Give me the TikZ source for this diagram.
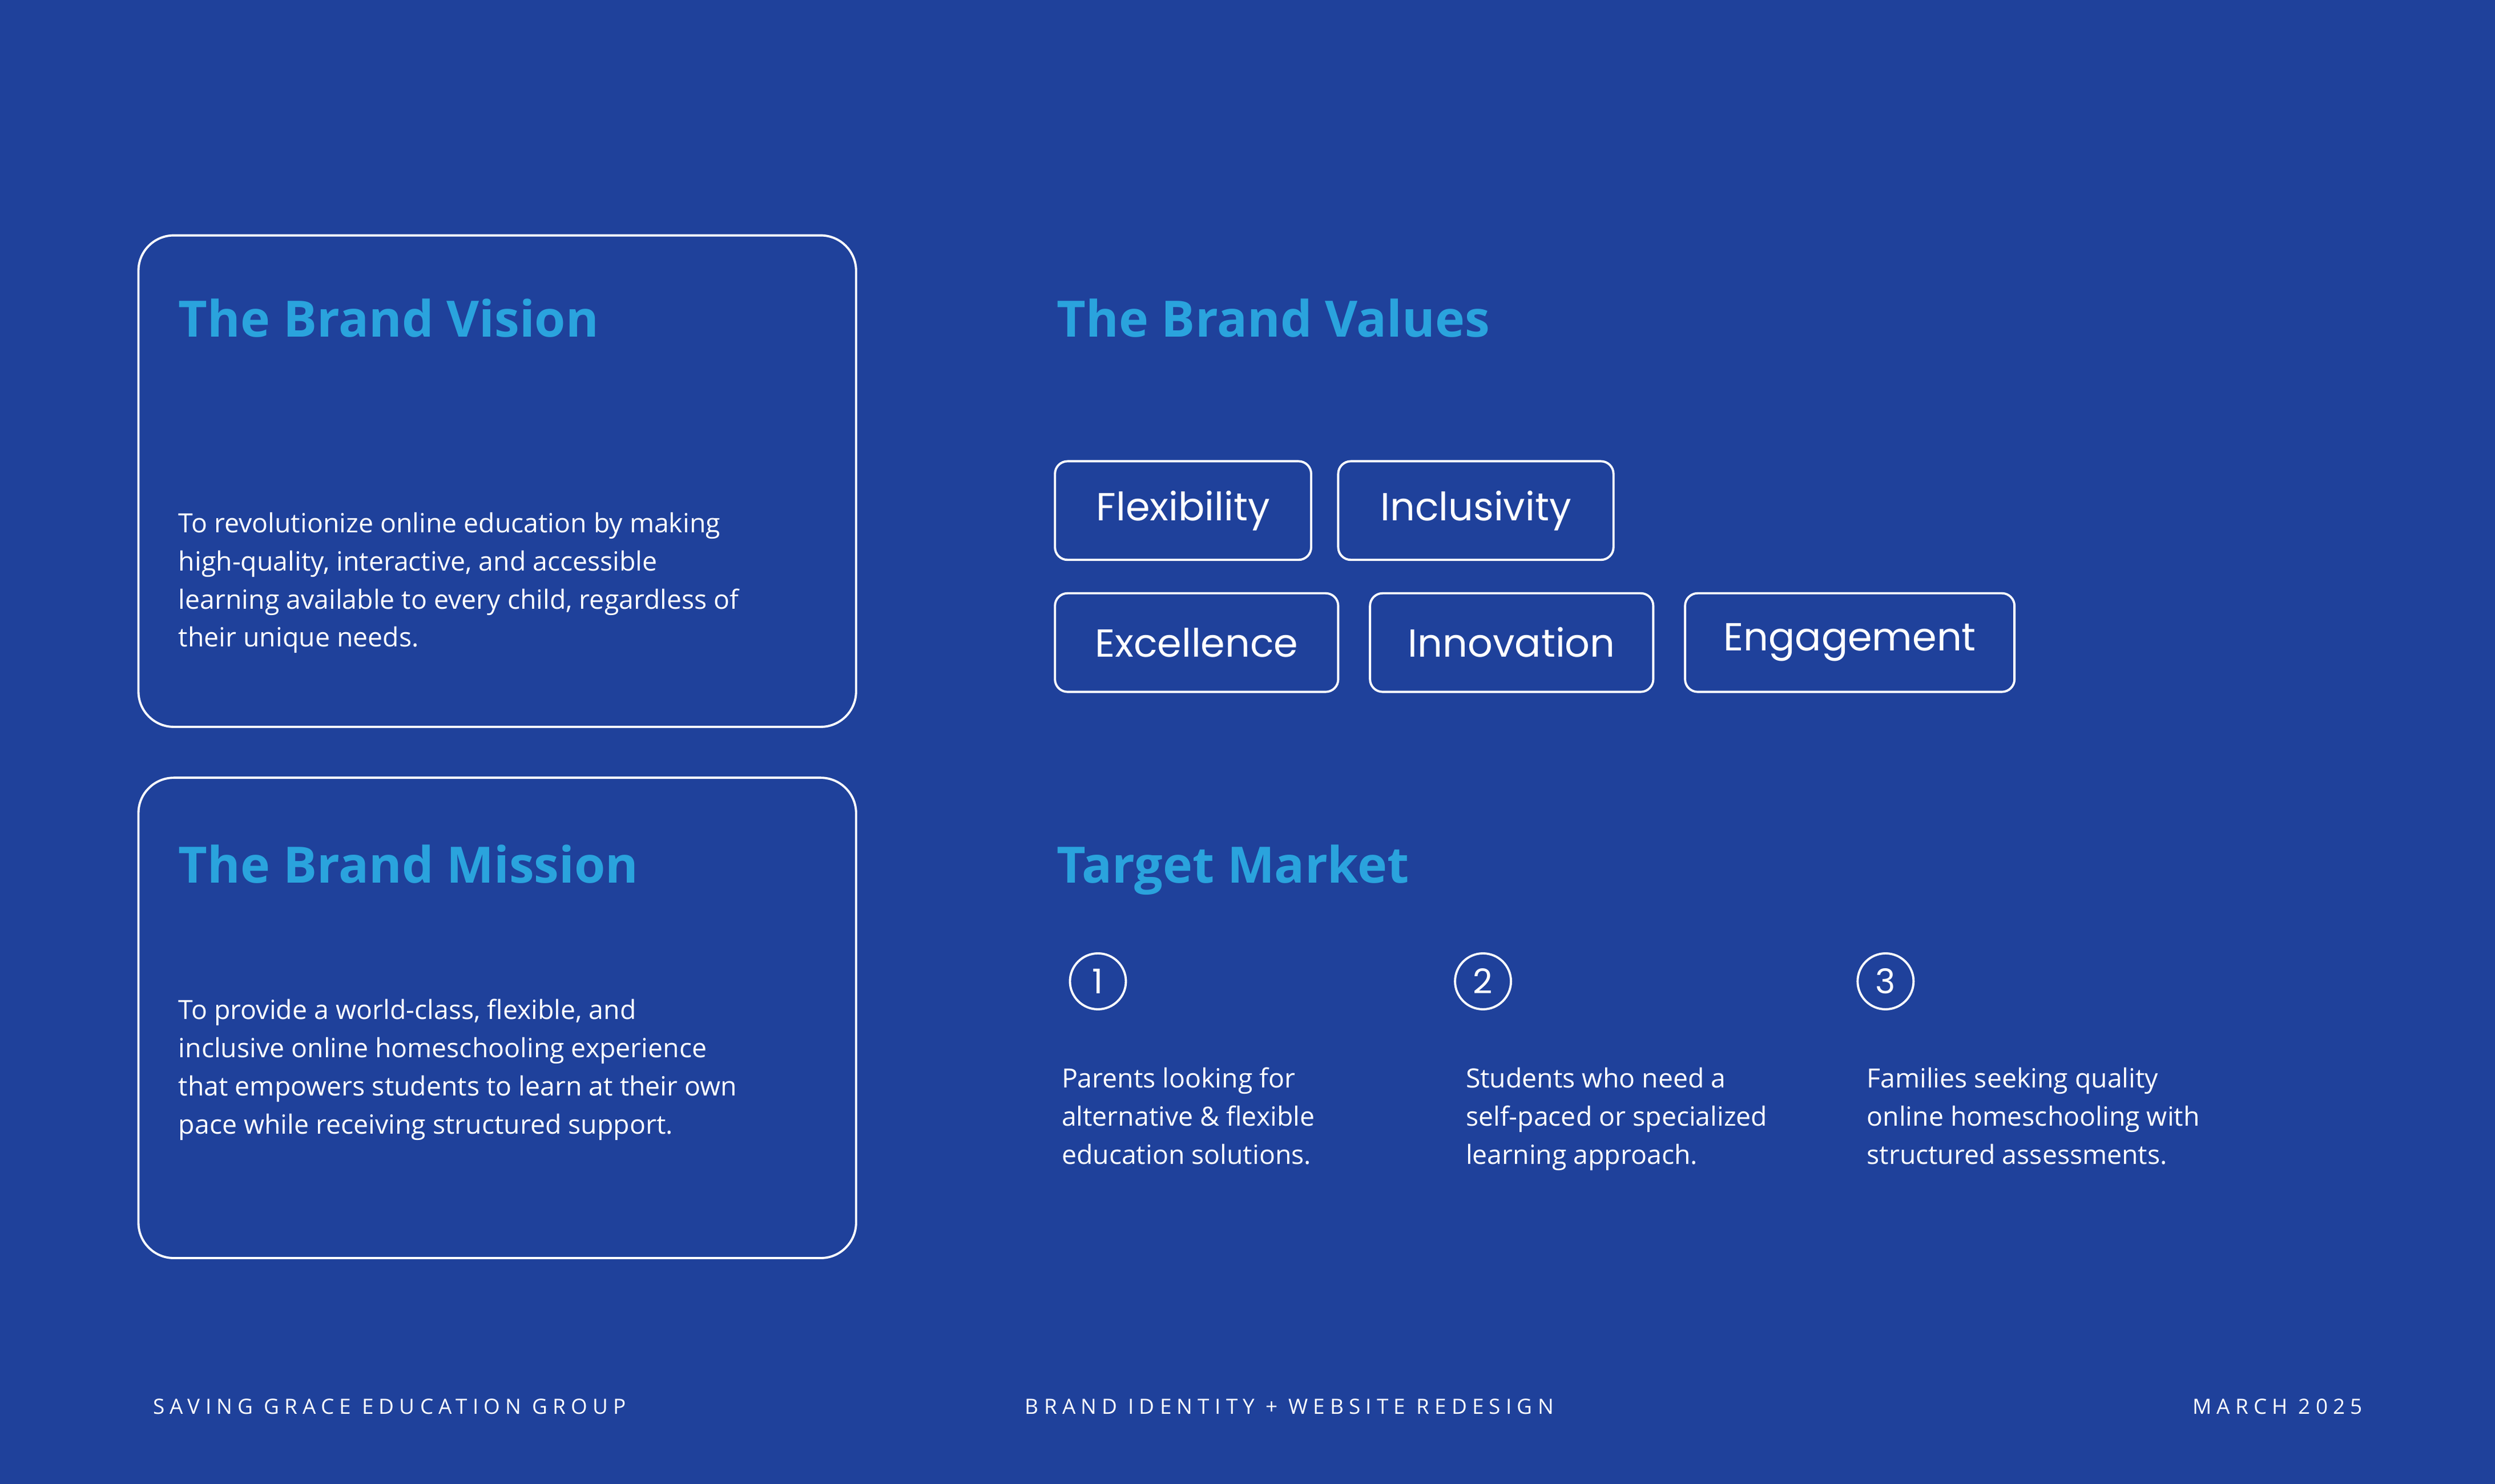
\documentclass[tikz,border=0pt]{standalone}
\usepackage{fontspec}
\setmainfont{Open Sans}
\newfontfamily\pop{Poppins}
\newfontfamily\foot[LetterSpace=25]{Open Sans}
\definecolor{bg}{HTML}{1F419B}
\definecolor{ttl}{HTML}{2AA3DD}
\begin{document}
\begin{tikzpicture}[x=0.02788cm,y=-0.02788cm,
 card/.style={draw=white,line width=1.1pt,rounded corners=0.62cm},
 pill/.style={draw=white,line width=1.1pt,rounded corners=0.22cm},
 ttltext/.style={anchor=base west,text=ttl,font=\fontsize{25}{30}\selectfont\bfseries,inner sep=0},
 body/.style={anchor=north west,text=white,align=left,font=\fontsize{13.2}{19}\selectfont,inner sep=0},
 pilltext/.style={text=white,font=\pop\fontsize{19.5}{23}\selectfont,inner sep=0},
 num/.style={circle,draw=white,line width=1.1pt,minimum size=0.98cm,inner sep=0,text=white,font=\pop\fontsize{17}{20}\selectfont},
 foottext/.style={anchor=base west,text=white,font=\foot\fontsize{10.5}{12}\selectfont,inner sep=0}]
\fill[bg] (0,0) rectangle (1568,933);
\useasboundingbox (0,0) rectangle (1568,933);
\draw[card] (87,148) rectangle (538,457);
\draw[card] (87,489) rectangle (538,791);
\node[ttltext] (tv) at (112,212) {The Brand Vision};
\node[ttltext] (tm) at (112,555) {The Brand Mission};
\node[ttltext] (tb) at (664,212) {The Brand Values};
\node[ttltext] (tt) at (664,555) {Target Market};
\node[body] (bv) at (112,322) {To revolutionize online education by making\\high-quality, interactive, and accessible\\learning available to every child, regardless of\\their unique needs.};
\node[body] (bm) at (112,628) {To provide a world-class, flexible, and\\inclusive online homeschooling experience\\that empowers students to learn at their own\\pace while receiving structured support.};
\draw[pill] (663,290) rectangle (824,352);
\draw[pill] (841,290) rectangle (1014,352);
\draw[pill] (663,373) rectangle (841,435);
\draw[pill] (861,373) rectangle (1039,435);
\draw[pill] (1059,373) rectangle (1266,435);
\node[pilltext] (p1) at (743.5,321) {Flexibility};
\node[pilltext] (p2) at (927.5,321) {Inclusivity};
\node[pilltext] (p3) at (752,404) {Excellence};
\node[pilltext] (p4) at (950,404) {Innovation};
\node[pilltext] (p5) at (1162.5,404) {Engagement};
\node[num] (n1) at (690,617) {1};
\node[num] (n2) at (932,617) {2};
\node[num] (n3) at (1185,617) {3};
\node[body] (t1) at (667,671) {Parents looking for\\alternative \& flexible\\education solutions.};
\node[body] (t2) at (921,671) {Students who need a\\self-paced or specialized\\learning approach.};
\node[body] (t3) at (1173,671) {Families seeking quality\\online homeschooling with\\structured assessments.};
\node[foottext] (f1) at (96,889) {SAVING GRACE EDUCATION GROUP};
\node[foottext] (f2) at (644,889) {BRAND IDENTITY + WEBSITE REDESIGN};
\node[foottext,anchor=base east] (f3) at (1485,889) {MARCH 2025};
\end{tikzpicture}
\end{document}
